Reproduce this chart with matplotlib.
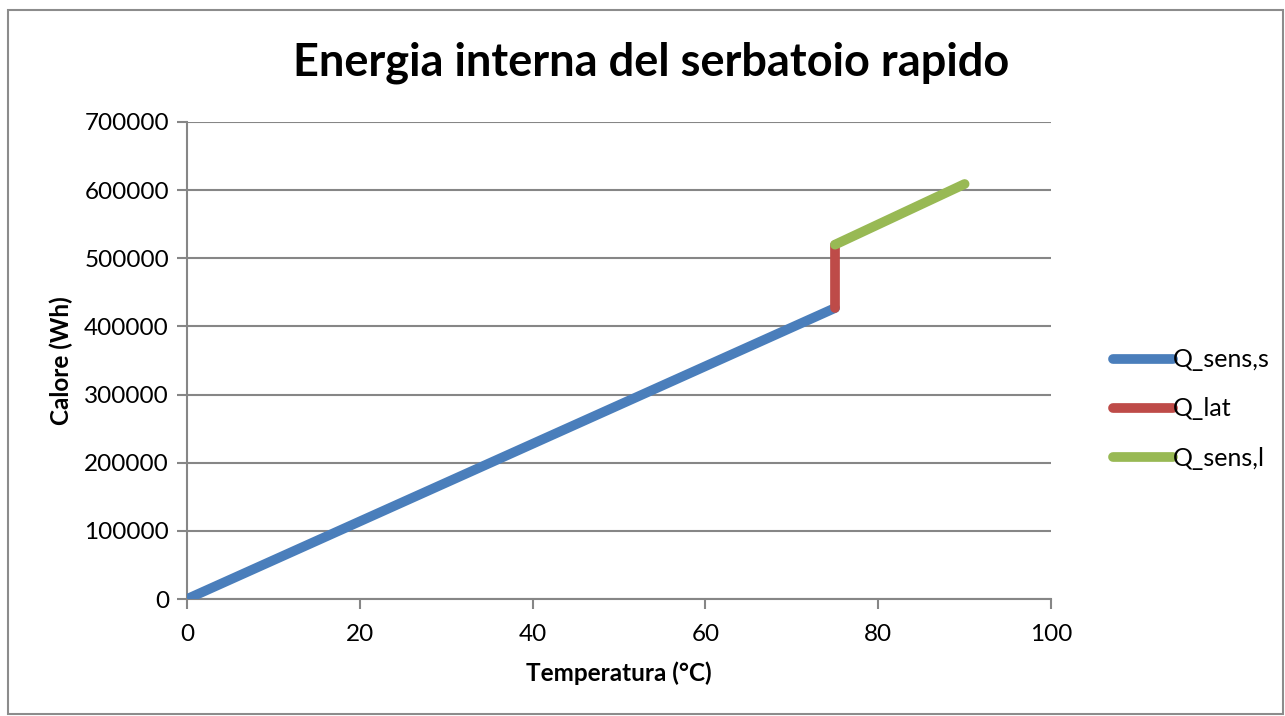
import numpy as np
import matplotlib.pyplot as plt
from matplotlib.patches import Rectangle

# Data
temp_sens_s = [0, 75]
q_sens_s = [0, 427000]
temp_lat = [75, 75]
q_lat = [427000, 520000]
temp_sens_l = [75, 90]
q_sens_l = [520000, 609000]

plt.rcParams["font.family"] = ["Lato", "DejaVu Sans"]

fig = plt.figure(figsize=(12.85, 7.16), dpi=100)
ax = fig.add_axes([187 / 1285, 1 - 599 / 716, (1051 - 187) / 1285, (599 - 122) / 716])

# chart area border
fig.patches.append(Rectangle((8 / 1285, 2 / 716), 1275 / 1285, 704 / 716,
                             transform=fig.transFigure, fill=False,
                             edgecolor="#8c8c8c", linewidth=1.5))

lw = 7
ax.plot(temp_sens_s, q_sens_s, color="#4a7ebb", lw=lw, solid_capstyle="round",
        label="Q_sens,s", zorder=3)
ax.plot(temp_lat, q_lat, color="#be4b48", lw=lw, solid_capstyle="round",
        label="Q_lat", zorder=4)
ax.plot(temp_sens_l, q_sens_l, color="#98b954", lw=lw, solid_capstyle="round",
        label="Q_sens,l", zorder=5)

ax.set_xlim(0, 100)
ax.set_ylim(0, 700000)
ax.set_xticks(np.arange(0, 101, 20))
ax.set_yticks(np.arange(0, 700001, 100000))
ax.yaxis.grid(True, color="#868686", lw=1.5)
ax.set_axisbelow(True)

for s in ["top", "right"]:
    ax.spines[s].set_visible(False)
for s in ["left", "bottom"]:
    ax.spines[s].set_color("#868686")
    ax.spines[s].set_linewidth(1.5)
ax.tick_params(axis="both", colors="#868686", length=7, width=1.5,
               labelcolor="black", labelsize=17.5, pad=6)
ax.tick_params(axis="x", pad=11)

ax.set_xlabel("Temperatura (°C)", fontsize=17.5, fontweight="bold", labelpad=12)
ax.set_ylabel("Calore (Wh)", fontsize=17.5, fontweight="bold", labelpad=8)
fig.text(651 / 1285, 1 - 63 / 716, "Energia interna del serbatoio rapido",
         ha="center", va="center", fontsize=32.5, fontweight="bold")

leg = fig.legend(loc="center left", bbox_to_anchor=(1100 / 1285, 1 - 409 / 716),
                 frameon=False, fontsize=18, handlelength=2.4, handletextpad=0.0,
                 labelspacing=1.05, borderpad=0)

fig.savefig("out.png", dpi=100)
